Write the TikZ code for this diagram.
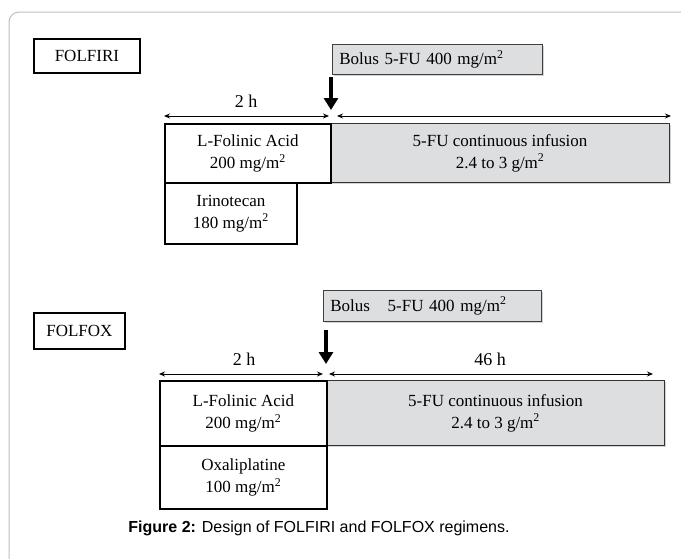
\documentclass[tikz,border=0pt]{standalone}
\usepackage{fontspec}
\setmainfont{Liberation Serif}
\newfontfamily\capfont{Liberation Sans}
\usetikzlibrary{arrows.meta,shadows}
\definecolor{boxgray}{RGB}{221,222,224}
\definecolor{framegray}{RGB}{190,190,190}
\newcommand{\bodyfs}{\fontsize{17}{22}\selectfont}
\newcommand{\sq}{\textsuperscript{2}}
\tikzset{
  whitebox/.style={draw=black, line width=1.8pt, fill=white, inner sep=0pt, anchor=north west, align=center, font=\bodyfs},
  graybox/.style={draw=black!80, line width=1.2pt, fill=boxgray, inner sep=0pt, anchor=north west, align=center, font=\bodyfs,
    drop shadow={shadow xshift=1.5pt, shadow yshift=-1.5pt, opacity=0.35}},
  bolusbox/.style={draw=black!75, line width=0.8pt, fill=boxgray, inner ysep=0pt, inner xsep=7pt, anchor=north west, align=left, font=\bodyfs,
    drop shadow={shadow xshift=1.5pt, shadow yshift=-1.5pt, opacity=0.35}},
  timearrow/.style={line width=0.9pt, {Stealth[length=6pt,width=5pt]}-{Stealth[length=6pt,width=5pt]}},
  bigarrow/.style={line width=4pt, -{Triangle[length=12pt,width=14pt]}},
  timelabel/.style={font=\fontsize{18}{20}\selectfont, inner sep=0pt}
}
\begin{document}
\begin{tikzpicture}[x=1pt,y=-1pt]
\useasboundingbox (0,0) rectangle (681,558);
\draw[framegray, line width=1pt, rounded corners=10pt] (9,600) -- (9,12) -- (720,12);

% ---------- FOLFIRI ----------
\node[whitebox, minimum width=106pt, minimum height=34pt] (folfiri) at (33,38) {FOLFIRI};
\node[bolusbox, text width=196pt, minimum height=30pt] (bolusA) at (332,44) {Bolus 5-FU 400 mg/m\sq};
\coordinate (arrA1) at (331,77);
\coordinate (arrA2) at (331,110);
\draw[bigarrow] (arrA1) -- (arrA2);

\node[graybox, minimum width=339pt, minimum height=59pt] (fuA) at (330,123) {5-FU continuous infusion\\2.4 to 3 g/m\sq};
\node[whitebox, minimum width=166pt, minimum height=59pt] (lfA) at (164,123) {L-Folinic Acid\\200 mg/m\sq};
\node[whitebox, minimum width=132pt, minimum height=61pt] (iri) at (164,182) {Irinotecan\\180 mg/m\sq};

\coordinate (tA1) at (164,116);
\coordinate (tA2) at (329,116);
\coordinate (tA3) at (337,116);
\coordinate (tA4) at (671,116);
\draw[timearrow] (tA1) -- (tA2);
\draw[timearrow] (tA3) -- (tA4);
\node[timelabel] (hA) at (246,101) {2 h};

% ---------- FOLFOX ----------
\node[whitebox, minimum width=91pt, minimum height=36pt] (folfox) at (33,312) {FOLFOX};
\node[bolusbox, text width=204pt, minimum height=31pt] (bolusB) at (323,290) {Bolus\hspace{0.7em} 5-FU 400 mg/m\sq};
\coordinate (arrB1) at (326,330);
\coordinate (arrB2) at (326,364);
\draw[bigarrow] (arrB1) -- (arrB2);

\node[graybox, minimum width=338pt, minimum height=65pt] (fuB) at (326,380) {5-FU continuous infusion\\2.4 to 3 g/m\sq};
\node[whitebox, minimum width=167pt, minimum height=65pt] (lfB) at (159,380) {L-Folinic Acid\\200 mg/m\sq};
\node[whitebox, minimum width=167pt, minimum height=63pt] (oxa) at (159,445) {Oxaliplatine\\100 mg/m\sq};

\coordinate (tB1) at (159,374);
\coordinate (tB2) at (323,374);
\coordinate (tB3) at (329,374);
\coordinate (tB4) at (653,374);
\draw[timearrow] (tB1) -- (tB2);
\draw[timearrow] (tB3) -- (tB4);
\node[timelabel] (hB1) at (244,359) {2 h};
\node[timelabel] (hB2) at (490,359) {46 h};

% ---------- caption ----------
\node[font=\capfont\fontsize{16}{18}\selectfont, inner sep=0pt] (cap) at (319,528) {\textbf{Figure 2:} Design of FOLFIRI and FOLFOX regimens.};
\end{tikzpicture}
\end{document}
